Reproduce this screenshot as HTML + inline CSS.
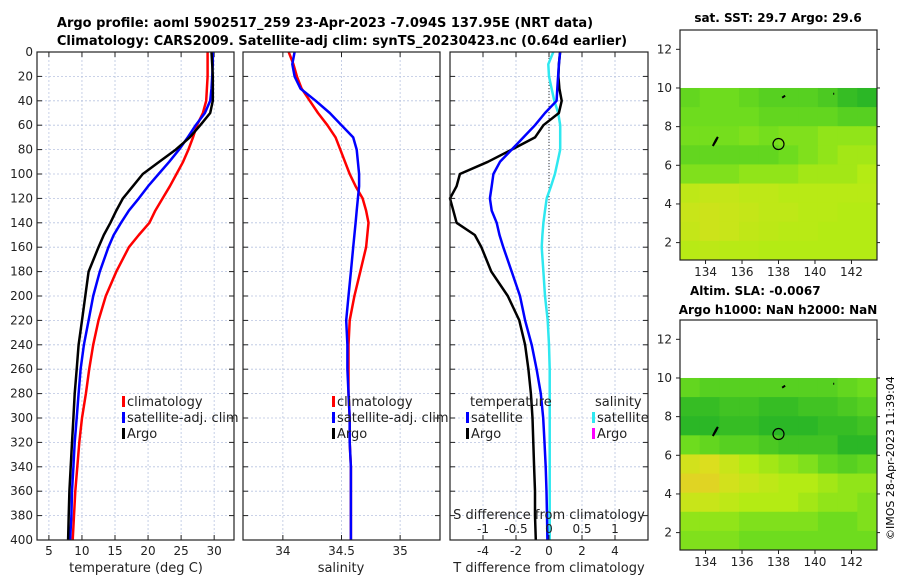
<!DOCTYPE html>
<html><head><meta charset="utf-8"><style>
body{margin:0;background:#fff}
svg{font-family:"DejaVu Sans","Liberation Sans",sans-serif;display:block}
</style></head><body>
<svg id="c" width="900" height="580" viewBox="0 0 900 580">
<text x="325" y="27" font-size="13" font-weight="bold" text-anchor="middle">Argo profile: aoml 5902517_259 23-Apr-2023 -7.094S 137.95E (NRT data)</text>
<text x="342" y="45" font-size="13" font-weight="bold" text-anchor="middle">Climatology: CARS2009. Satellite-adj clim: synTS_20230423.nc (0.64d earlier)</text>
<text x="778" y="22" font-size="12" font-weight="bold" text-anchor="middle">sat. SST: 29.7 Argo: 29.6</text>
<text x="690" y="295" font-size="12" font-weight="bold">Altim. SLA: -0.0067</text>
<text x="778" y="314" font-size="12" font-weight="bold" text-anchor="middle">Argo h1000: NaN h2000: NaN</text>
<text transform="translate(894,540) rotate(-90)" font-size="11">©IMOS 28-Apr-2023 11:39:04</text>
</svg>
<script>
// ---- data ----
const depths=[0,10,20,30,40,50,60,70,80,90,100,110,120,130,140,150,160,180,200,220,240,260,280,300,320,340,360,380,400];
const tClim=[29.0,29.0,29.0,28.9,28.8,28.3,27.4,26.8,26.1,25.3,24.3,23.3,22.2,21.1,20.2,18.6,17.1,15.2,13.6,12.5,11.7,11.1,10.6,10.0,9.6,9.3,9.0,8.8,8.6];
const tSat=[29.8,29.8,29.7,29.6,29.4,28.6,27.2,26.0,24.7,23.2,21.6,20.0,18.6,17.1,15.9,14.8,14.0,12.7,11.7,11.0,10.3,9.8,9.5,9.2,8.9,8.7,8.5,8.4,8.2];
const tArgo=[29.6,29.7,29.8,29.8,29.8,29.4,27.9,26.3,24.2,21.7,19.2,17.7,16.2,15.2,14.3,13.3,12.5,11.0,10.5,10.0,9.5,9.2,8.9,8.7,8.5,8.3,8.1,8.0,7.9];
const sClim=[34.05,34.09,34.12,34.16,34.23,34.30,34.38,34.45,34.49,34.53,34.57,34.62,34.68,34.71,34.73,34.72,34.71,34.66,34.61,34.57,34.56,34.56,34.56,34.57,34.57,34.58,34.58,34.58,34.58];
const sSat=[34.10,34.08,34.10,34.15,34.28,34.40,34.50,34.60,34.63,34.64,34.65,34.65,34.64,34.63,34.62,34.61,34.60,34.58,34.56,34.54,34.55,34.55,34.56,34.57,34.57,34.58,34.58,34.58,34.58];
const dtArgo=[0.67,0.6,0.57,0.63,0.77,0.6,-0.34,-0.85,-2.26,-3.7,-5.4,-5.6,-6.0,-5.8,-5.6,-4.5,-4.1,-3.5,-2.5,-1.8,-1.45,-1.25,-1.1,-1.0,-0.95,-0.9,-0.85,-0.85,-0.8];
const dtSat=[0.67,0.6,0.55,0.5,0.46,-0.24,-0.85,-1.55,-2.26,-2.97,-3.37,-3.47,-3.58,-3.47,-3.17,-3.0,-2.77,-2.26,-1.76,-1.45,-1.05,-0.75,-0.5,-0.35,-0.27,-0.2,-0.15,-0.12,-0.1];
const dsSat=[0.065,-0.01,0.0,0.04,0.08,0.14,0.17,0.17,0.17,0.13,0.09,0.03,-0.035,-0.06,-0.085,-0.1,-0.11,-0.085,-0.06,-0.02,0.0,0.01,0.01,0.01,0.01,0.01,0.01,0.01,0.01];
const depthTicks=[0,20,40,60,80,100,120,140,160,180,200,220,240,260,280,300,320,340,360,380,400];
const tTicks=[5,10,15,20,25,30];
const sTicks=[34,34.5,35];
const dtTicks=[-4,-2,0,2,4];
const dsTicks=[-1,-0.5,0,0.5,1];
const latTicks=[2,4,6,8,10,12];
const lonTicks=[134,136,138,140,142];
const map1Vals=[
[0.35,0.4,0.4,0.35,0.3,0.3,0.3,0.25,0.15,0.1],
[0.4,0.4,0.4,0.4,0.35,0.35,0.35,0.35,0.3,0.3],
[0.42,0.42,0.42,0.45,0.42,0.45,0.45,0.5,0.5,0.5],
[0.35,0.35,0.35,0.35,0.35,0.4,0.45,0.5,0.55,0.55],
[0.45,0.45,0.45,0.5,0.5,0.5,0.55,0.55,0.55,0.6],
[0.65,0.68,0.68,0.65,0.65,0.62,0.62,0.62,0.62,0.62],
[0.7,0.72,0.7,0.68,0.65,0.65,0.62,0.62,0.6,0.6],
[0.68,0.72,0.7,0.66,0.64,0.62,0.62,0.6,0.6,0.6],
[0.62,0.64,0.62,0.62,0.6,0.6,0.6,0.6,0.6,0.6]];
const map2Vals=[
[0.35,0.3,0.3,0.3,0.3,0.3,0.3,0.3,0.35,0.4],
[0.15,0.15,0.2,0.2,0.15,0.15,0.2,0.2,0.25,0.3],
[0.1,0.1,0.15,0.15,0.1,0.1,0.1,0.15,0.15,0.2],
[0.4,0.35,0.3,0.3,0.25,0.2,0.2,0.2,0.1,0.1],
[0.75,0.8,0.7,0.6,0.55,0.5,0.45,0.35,0.3,0.35],
[0.85,0.85,0.75,0.7,0.65,0.6,0.6,0.55,0.5,0.5],
[0.7,0.7,0.65,0.6,0.6,0.6,0.55,0.5,0.5,0.45],
[0.5,0.5,0.5,0.45,0.45,0.45,0.45,0.4,0.4,0.45],
[0.45,0.45,0.45,0.4,0.4,0.4,0.4,0.4,0.4,0.4]];

const NS='http://www.w3.org/2000/svg';
const svg=document.getElementById('c');
function mk(tag,attrs,parent){const e=document.createElementNS(NS,tag);for(const k in attrs)e.setAttribute(k,attrs[k]);(parent||svg).appendChild(e);return e;}
function txt(x,y,s,size,anchor,name,color){const e=mk('text',{x:x,y:y,'font-size':size,'text-anchor':anchor||'middle',fill:color||'#222'});e.textContent=s;

return e;}

const Y0=52,Y1=540;
const yD=d=>Y0+d*(Y1-Y0)/400;
function panel(x0,x1,dmin,dmax,ticks,name,labelsY){
  const sx=v=>x0+(v-dmin)/(dmax-dmin)*(x1-x0);
  const g=mk('g',{});
  
  
  ticks.forEach(t=>{mk('line',{x1:sx(t),x2:sx(t),y1:Y0,y2:Y1,stroke:'#b8c4e0','stroke-width':0.8,'stroke-dasharray':'2,2'},g);});
  depthTicks.forEach(d=>{mk('line',{x1:x0,x2:x1,y1:yD(d),y2:yD(d),stroke:'#b8c4e0','stroke-width':0.8,'stroke-dasharray':'2,2'},g);
    mk('line',{x1:x0,x2:x0+5,y1:yD(d),y2:yD(d),stroke:'#222'},g);mk('line',{x1:x1-5,x2:x1,y1:yD(d),y2:yD(d),stroke:'#222'},g);
    if(labelsY)txt(x0-4,yD(d)+4,String(d),12,'end','depth-tick-label');});
  ticks.forEach(t=>{mk('line',{x1:sx(t),x2:sx(t),y1:Y1,y2:Y1-5,stroke:'#222'},g);mk('line',{x1:sx(t),x2:sx(t),y1:Y0,y2:Y0+5,stroke:'#222'},g);});
  return {sx,g,x0,x1};
}
function line(p,vals,color,name,w){
  const pts=vals.map((v,i)=>p.sx(v).toFixed(1)+','+yD(depths[i]).toFixed(1)).join(' ');
  const e=mk('polyline',{points:pts,fill:'none',stroke:color,'stroke-width':w||2.5,'stroke-linejoin':'round'});
  
  
}
function frame(p){mk('rect',{x:p.x0,y:Y0,width:p.x1-p.x0,height:Y1-Y0,fill:'none',stroke:'#222','stroke-width':1.2});}
function legItem(x,y,color,label){mk('rect',{x:x,y:y-10,width:3,height:11,fill:color});const t=txt(x+5,y,label,13,'start','legend-entry');}

// panel 1
const p1=panel(37,234,3.2,33,tTicks,'temperature-panel',true);
line(p1,tClim,'#f00','temperature-climatology-line');
line(p1,tSat,'#00f','temperature-satellite-line');
line(p1,tArgo,'#000','temperature-argo-line');
frame(p1);
tTicks.forEach(t=>txt(p1.sx(t),555,String(t),12,'middle','temperature-tick-label'));
txt(136,572,'temperature (deg C)',13,'middle','temperature-axis-title');
legItem(122,406,'#f00','climatology');legItem(122,422,'#00f','satellite-adj. clim');legItem(122,438,'#000','Argo');

// panel 2
const p2=panel(243,440,33.66,35.34,sTicks,'salinity-panel',false);
line(p2,sClim,'#f00','salinity-climatology-line');
line(p2,sSat,'#00f','salinity-satellite-line');
frame(p2);
sTicks.forEach(t=>txt(p2.sx(t),555,String(t),12,'middle','salinity-tick-label'));
txt(341,572,'salinity',13,'middle','salinity-axis-title');
legItem(332,406,'#f00','climatology');legItem(332,422,'#00f','satellite-adj. clim');legItem(332,438,'#000','Argo');

// panel 3
const p3=panel(450,648,-6.0,6.0,dtTicks,'difference-panel',false);
const sxS=v=>p3.sx(v*4);
mk('line',{x1:p3.sx(0),x2:p3.sx(0),y1:Y0,y2:Y1,stroke:'#333','stroke-width':1,'stroke-dasharray':'1,2'});
line({sx:sxS},dsSat,'#2ee8f0','salinity-diff-satellite-line');
line(p3,dtArgo,'#000','temperature-diff-argo-line');
line(p3,dtSat,'#00f','temperature-diff-satellite-line');
frame(p3);
dtTicks.forEach(t=>txt(p3.sx(t),555,String(t),12,'middle','t-diff-tick-label'));
dsTicks.forEach(t=>{mk('line',{x1:sxS(t),x2:sxS(t),y1:Y1,y2:Y1-5,stroke:'#222'});txt(sxS(t),533,String(t),12,'middle','s-diff-tick-label');});
txt(549,519,'S difference from climatology',13,'middle','s-diff-axis-title');
txt(549,572,'T difference from climatology',13,'middle','t-diff-axis-title');
txt(470,406,'temperature',13,'start','legend-header-temperature');
txt(595,406,'salinity',13,'start','legend-header-salinity');
legItem(466,422,'#00f','satellite');legItem(466,438,'#000','Argo');
legItem(592,422,'#2ee8f0','satellite');legItem(592,438,'#f0f','Argo');

// maps
function cmap(v){const st=[[0,20,170,40],[0.4,110,220,30],[0.6,180,235,20],[0.8,220,222,30],[1,235,180,50]];
  for(let i=1;i<st.length;i++){if(v<=st[i][0]){const a=st[i-1],b=st[i],f=(v-a[0])/(b[0]-a[0]);return 'rgb('+[1,2,3].map(k=>Math.round(a[k]+f*(b[k]-a[k]))).join(',')+')';}}return 'rgb(235,180,50)';}
function map(top,bot,vals,name){
  const x0=680,x1=877,lonMin=132.6,lonMax=143.4,latMin=1.1,latMax=13.0;
  const sx=l=>x0+(l-lonMin)/(lonMax-lonMin)*(x1-x0);
  const sy=l=>bot-(l-latMin)/(latMax-latMin)*(bot-top);
  const g=mk('g',{});
  
  
  const nr=vals.length,nc=vals[0].length,cw=(x1-x0)/nc,ch=(sy(1.1)-sy(10))/nr;
  vals.forEach((row,r)=>row.forEach((v,c)=>{const e=mk('rect',{x:x0+c*cw,y:sy(10)+r*ch,width:cw+0.5,height:ch+0.5,fill:cmap(v)},g);
    
    }));
  mk('path',{d:`M${sx(134.4)},${sy(7.0)} l3,-5 l2,-4 l-2,3 z M${sx(138.2)},${sy(9.5)} l3,-2 M${sx(141)},${sy(9.7)} l1,0`,stroke:'#000','stroke-width':2,fill:'#000'},g);
  const ci=mk('circle',{cx:sx(138),cy:sy(7.1),r:5.5,fill:'none',stroke:'#000','stroke-width':1.2},g);
  
  
  mk('rect',{x:x0,y:top,width:x1-x0,height:bot-top,fill:'none',stroke:'#222','stroke-width':1.2},g);
  latTicks.forEach(l=>{mk('line',{x1:x0,x2:x0-4,y1:sy(l),y2:sy(l),stroke:'#222'},g);mk('line',{x1:x1,x2:x1+3,y1:sy(l),y2:sy(l),stroke:'#222'},g);txt(x0-8,sy(l)+4,String(l),12,'end','lat-tick-label');});
  lonTicks.forEach(l=>{mk('line',{x1:sx(l),x2:sx(l),y1:bot,y2:bot+4,stroke:'#222'},g);txt(sx(l),bot+16,String(l),12,'middle','lon-tick-label');});
}
map(30,260,map1Vals,'sst-map');
map(320,550,map2Vals,'sla-map');
</script>
</body></html>
